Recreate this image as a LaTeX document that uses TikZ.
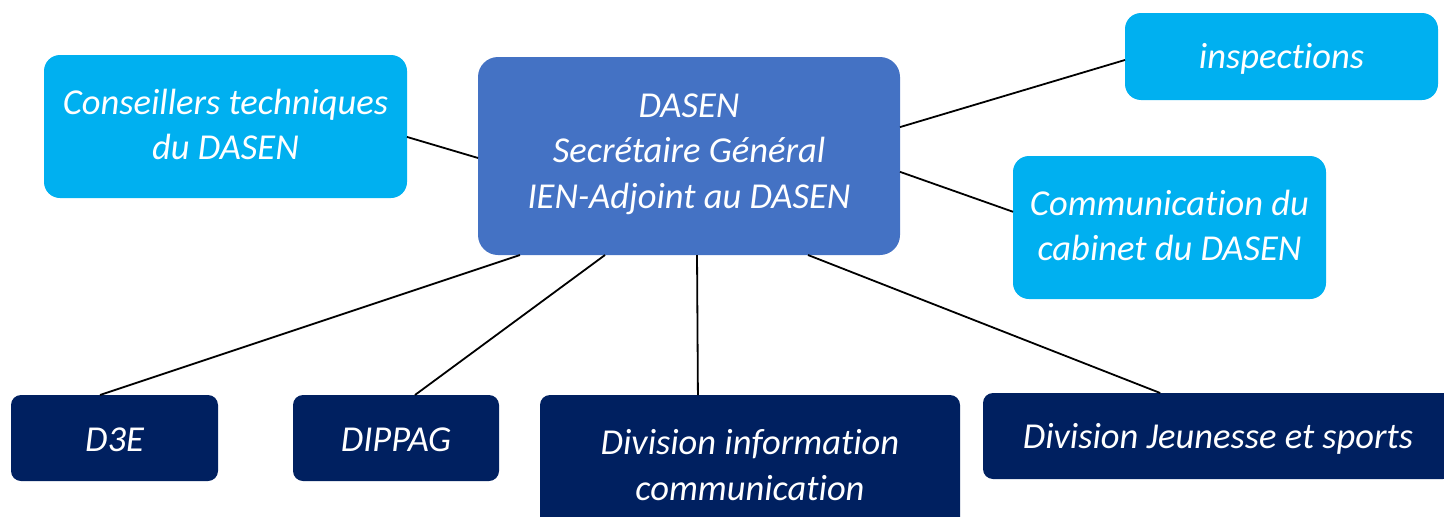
\documentclass[tikz,border=0pt]{standalone}
\usepackage{fontspec}
\setmainfont[Ligatures=NoCommon]{Carlito}
\usetikzlibrary{calc}
\definecolor{cyanbox}{HTML}{00B0F0}
\definecolor{headbox}{HTML}{4472C4}
\definecolor{navybox}{HTML}{002060}
\tikzset{
  box/.style={rectangle, inner sep=0pt, outer sep=0pt, align=center,
    text=white, font=\fontsize{36.5}{45.5}\selectfont\itshape},
  cyanstyle/.style={box, fill=cyanbox, rounded corners=16pt},
  headstyle/.style={box, fill=headbox, rounded corners=20pt},
  navystyle/.style={box, fill=navybox, rounded corners=10pt},
  link/.style={draw=black, line width=1.8pt}
}
\begin{document}
\begin{tikzpicture}[x=1pt,y=-1pt]
\useasboundingbox (0,0) rectangle (1444,517);
% upper row
\node[cyanstyle, minimum width=363pt, minimum height=143pt] (cons) at (225.5,126.5)
  {};
\node[box] at (225.5,124.5) {Conseillers techniques\\du DASEN};
\node[headstyle, minimum width=422pt, minimum height=198pt] (dasen) at (689,156)
  {};
\node[box] at (689,154) {DASEN\\Secrétaire Général\\IEN-Adjoint au DASEN};
\node[cyanstyle, minimum width=313pt, minimum height=87pt] (insp) at (1281.5,56.5)
  {};
\node[box] at (1281.5,59) {inspections};
\node[cyanstyle, minimum width=313pt, minimum height=143pt] (comm) at (1169.5,227.5)
  {};
\node[box] at (1169.5,225.5) {Communication du\\cabinet du DASEN};
% lower row
\node[navystyle, minimum width=207pt, minimum height=86pt] (d3e) at (114.5,438)
  {};
\node[box] at (114.5,440) {D3E};
\node[navystyle, minimum width=206pt, minimum height=86pt] (dippag) at (396,438)
  {};
\node[box] at (396,440) {DIPPAG};
\node[navystyle, minimum width=420pt, minimum height=145pt, anchor=north] (divinfo) at (750,395)
  {};
\node[box] at (750,465) {Division information\\communication};
\node[navystyle, minimum width=470pt, minimum height=86pt, anchor=north west] (jeun) at (983,393)
  {};
\node[box] at (1218,439) {Division Jeunesse et sports};
% connectors
\draw[link] ($(cons.north east)!0.573!(cons.south east)$) -- ($(dasen.north west)!0.51!(dasen.south west)$);
\draw[link] ($(dasen.north east)!0.354!(dasen.south east)$) -- ($(insp.north west)!0.54!(insp.south west)$);
\draw[link] ($(dasen.north east)!0.58!(dasen.south east)$) -- ($(comm.north west)!0.39!(comm.south west)$);
\draw[link] ($(dasen.south west)!0.0995!(dasen.south east)$) -- ($(d3e.north west)!0.43!(d3e.north east)$);
\draw[link] ($(dasen.south west)!0.301!(dasen.south east)$) -- ($(dippag.north west)!0.592!(dippag.north east)$);
\draw[link] ($(dasen.south west)!0.519!(dasen.south east)$) -- ($(divinfo.north west)!0.376!(divinfo.north east)$);
\draw[link] ($(dasen.south west)!0.782!(dasen.south east)$) -- ($(jeun.north west)!0.377!(jeun.north east)$);
\end{tikzpicture}
\end{document}
